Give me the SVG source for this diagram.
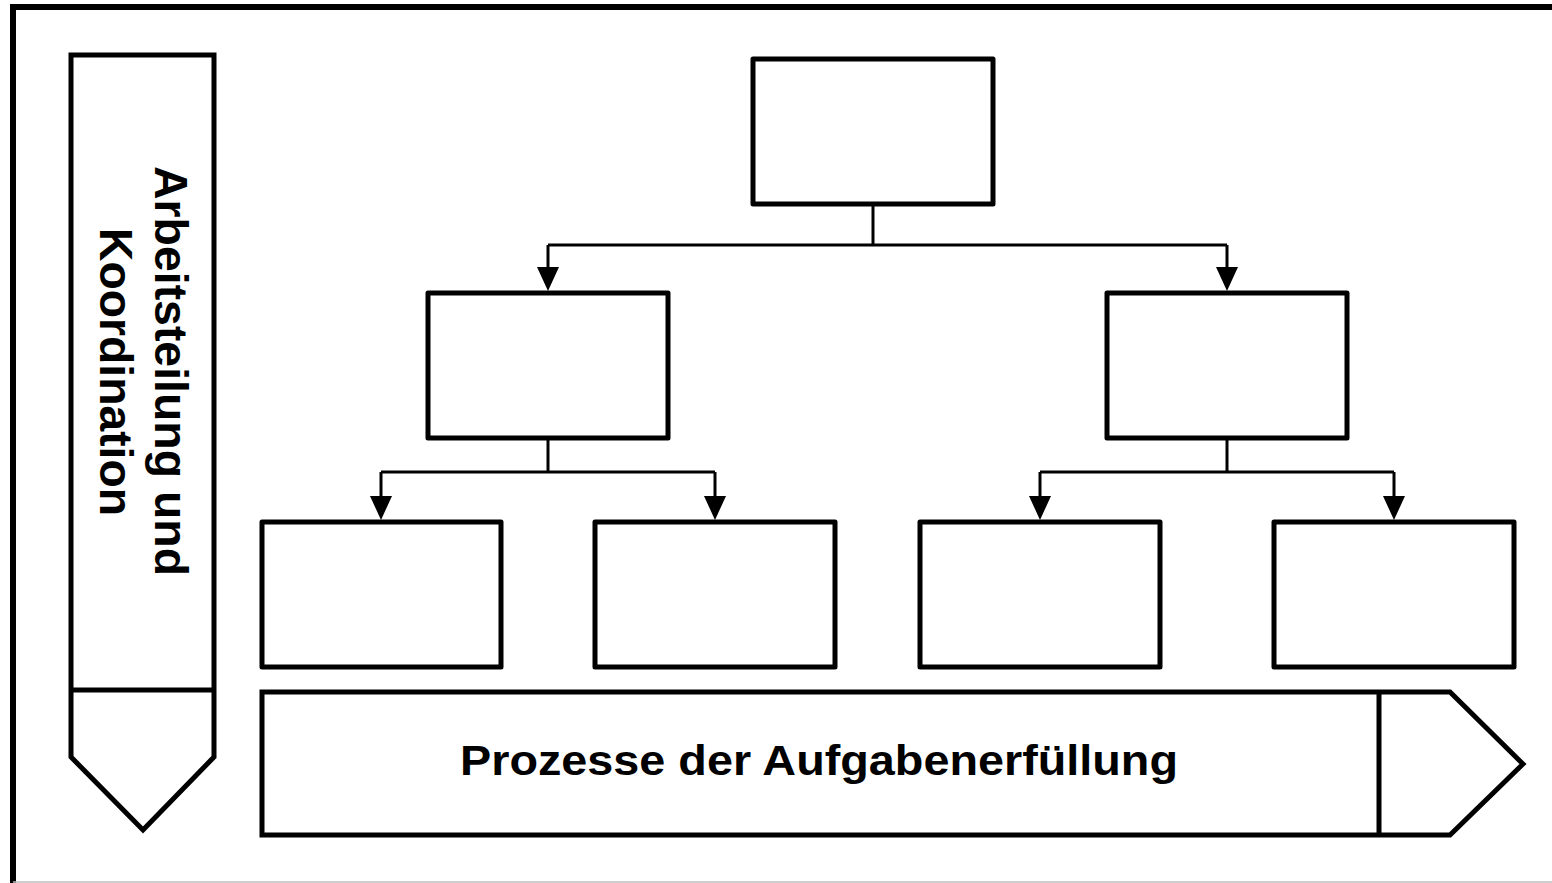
<svg xmlns="http://www.w3.org/2000/svg" width="1552" height="883" viewBox="0 0 1552 883">
  <defs>
    <style>
      .box { fill: #ffffff; stroke: #000000; stroke-width: 5; stroke-linejoin: round; }
      .shape { fill: #ffffff; stroke: #000000; stroke-width: 5; stroke-linejoin: miter; }
      .conn { fill: none; stroke: #000000; stroke-width: 3; }
      .label { font-family: "Liberation Sans", Arial, sans-serif; font-weight: bold; fill: #000000; }
    </style>
    <marker id="arrow" viewBox="0 0 24 22" refX="13" refY="11" markerWidth="24" markerHeight="22" markerUnits="userSpaceOnUse" orient="auto">
      <path d="M0,0 L24,11 L0,22 Z" fill="#000000"/>
    </marker>
  </defs>

  <rect x="0" y="0" width="1552" height="883" fill="#ffffff"/>

  <!-- outer frame -->
  <g id="frame">
    <path d="M13,883 V7 H1552" fill="none" stroke="#000000" stroke-width="6"/>
    <line x1="13" y1="882" x2="1552" y2="882" stroke="#bdbdbd" stroke-width="1.5"/>
  </g>

  <!-- vertical arrow: division of labour and coordination -->
  <g id="arrow-vertical">
    <path class="shape" d="M71,55 H214 V757 L143,830 L71,757 Z"/>
    <line x1="71" y1="690" x2="214" y2="690" stroke="#000000" stroke-width="5"/>
    <text class="label" font-size="46" text-anchor="middle" textLength="410" lengthAdjust="spacingAndGlyphs" transform="translate(155,371) rotate(90)">Arbeitsteilung und</text>
    <text class="label" font-size="46" text-anchor="middle" textLength="288" lengthAdjust="spacingAndGlyphs" transform="translate(100,372) rotate(90)">Koordination</text>
  </g>

  <!-- horizontal arrow: task fulfilment processes -->
  <g id="arrow-horizontal">
    <path class="shape" d="M262,692 H1450 L1523,764 L1450,835 H262 Z"/>
    <line x1="1379" y1="692" x2="1379" y2="835" stroke="#000000" stroke-width="5"/>
    <text class="label" font-size="42" x="819" y="775" text-anchor="middle" textLength="718" lengthAdjust="spacingAndGlyphs">Prozesse der Aufgabenerfüllung</text>
  </g>

  <!-- connectors -->
  <g id="connectors">
    <path class="conn" d="M873,204 V245"/>
    <path class="conn" d="M548,245 H1227"/>
    <path class="conn" d="M548,245 V280" marker-end="url(#arrow)"/>
    <path class="conn" d="M1227,245 V280" marker-end="url(#arrow)"/>

    <path class="conn" d="M548,438 V472"/>
    <path class="conn" d="M381,472 H715"/>
    <path class="conn" d="M381,472 V509" marker-end="url(#arrow)"/>
    <path class="conn" d="M715,472 V509" marker-end="url(#arrow)"/>

    <path class="conn" d="M1227,438 V472"/>
    <path class="conn" d="M1040,472 H1394"/>
    <path class="conn" d="M1040,472 V509" marker-end="url(#arrow)"/>
    <path class="conn" d="M1394,472 V509" marker-end="url(#arrow)"/>
  </g>

  <!-- hierarchy nodes -->
  <g id="node-top"><rect class="box" x="753" y="59" width="240" height="145"/></g>
  <g id="node-mid-left"><rect class="box" x="428" y="293" width="240" height="145"/></g>
  <g id="node-mid-right"><rect class="box" x="1107" y="293" width="240" height="145"/></g>
  <g id="node-bottom-1"><rect class="box" x="262" y="522" width="239" height="145"/></g>
  <g id="node-bottom-2"><rect class="box" x="595" y="522" width="240" height="145"/></g>
  <g id="node-bottom-3"><rect class="box" x="920" y="522" width="240" height="145"/></g>
  <g id="node-bottom-4"><rect class="box" x="1274" y="522" width="240" height="145"/></g>
</svg>
